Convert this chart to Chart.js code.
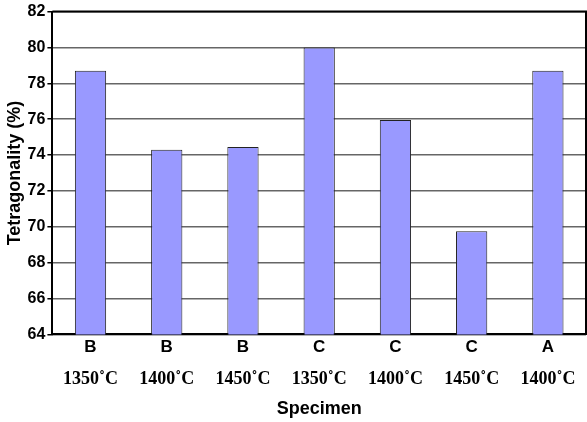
<!DOCTYPE html>
<html>
<head>
<meta charset="utf-8">
<script src="https://cdn.jsdelivr.net/npm/chart.js@4"></script>
<style>
html,body{margin:0;padding:0;background:#fff;}
#wrap{width:587px;height:422px;}
</style>
</head>
<body>
<div id="wrap"><canvas id="c"></canvas></div>
<script>
// specimen letters and sintering temperatures
const specimens=['B','B','B','C','C','C','A'];
const temps=['1350˚C','1400˚C','1450˚C','1350˚C','1400˚C','1450˚C','1400˚C'];
const tetragonality=[78.7,74.3,74.45,80.0,75.95,69.75,78.7];

const yMin=64, yMax=82, yStep=2;

const frame={
  id:'frame',
  afterDraw(chart){
    const a=chart.chartArea, g=chart.ctx;
    g.save();
    g.strokeStyle='#000';
    g.lineWidth=2;
    g.beginPath();
    g.moveTo(a.left,a.top);g.lineTo(a.right,a.top);g.lineTo(a.right,a.bottom);
    g.stroke();
    g.restore();
  }
};

const sans="Arial, 'Liberation Sans', sans-serif";
const serif="'Times New Roman', 'Liberation Serif', serif";

new Chart(document.getElementById('c'),{
  type:'bar',
  data:{
    labels:specimens,
    datasets:[{
      data:tetragonality,
      backgroundColor:'#9999ff',
      borderColor:'#222',
      borderWidth:1,
      categoryPercentage:1,
      barPercentage:0.41
    }]
  },
  options:{
    responsive:true,
    maintainAspectRatio:false,
    animation:false,
    layout:{padding:{top:2,right:1,left:4,bottom:2}},
    plugins:{legend:{display:false},tooltip:{enabled:false}},
    scales:{
      x:{
        grid:{display:false,drawTicks:false},
        border:{color:'#000',width:2},
        ticks:{color:'#000',font:{family:sans,weight:'bold',size:17},padding:3}
      },
      x2:{
        type:'category',
        position:'bottom',
        labels:temps,
        grid:{display:false,drawTicks:false},
        border:{display:false},
        ticks:{color:'#000',font:{family:serif,weight:'bold',size:18},padding:8},
        title:{display:true,text:'Specimen',color:'#000',font:{family:sans,weight:'bold',size:18},padding:{top:0,bottom:0}}
      },
      y:{
        min:yMin,max:yMax,
        ticks:{stepSize:yStep,color:'#000',font:{family:sans,weight:'bold',size:16},padding:2},
        grid:{color:'#666',lineWidth:1.5,tickLength:5,tickColor:'#000'},
        border:{color:'#000',width:2},
        title:{display:true,text:'Tetragonality (%)',color:'#000',font:{family:sans,weight:'bold',size:18},padding:{top:0,bottom:0}}
      }
    }
  },
  plugins:[frame]
});
</script>
</body>
</html>
